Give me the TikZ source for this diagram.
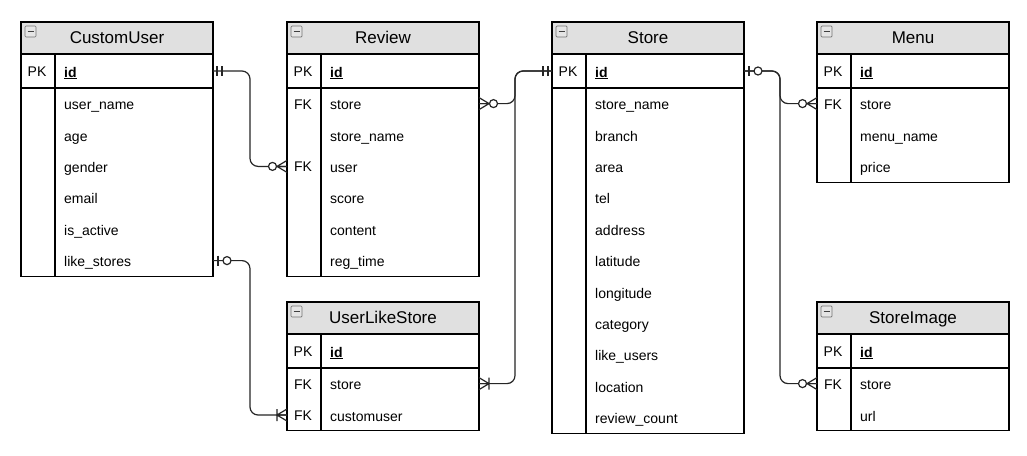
\documentclass[tikz,border=0pt]{standalone}
\usepackage{fontspec}
\setmainfont{Liberation Sans}
\usetikzlibrary{calc}
\tikzset{
 tbl/.style={draw=black, line width=1.1pt},
 hdrfill/.style={fill=black!12},
 ttl/.style={font=\fontsize{17}{19}\selectfont, anchor=base, inner sep=0pt},
 keyt/.style={font=\fontsize{14}{16}\selectfont, anchor=base, inner sep=0pt},
 fld/.style={font=\fontsize{14}{16}\selectfont, anchor=base west, inner sep=0pt},
 conn/.style={draw=black!85, line width=1.2pt, rounded corners=8pt},
 sym/.style={draw=black!85, line width=1.2pt},
 mandone/.pic={\draw[sym] (4,-5)--(4,5) (9,-5)--(9,5);},
 zeroone/.pic={\draw[sym] (5,-5)--(5,5); \draw[sym,fill=white] (14,0) circle (4pt);},
 zeromany/.pic={\draw[sym] (0,-6)--(10,0)--(0,6) (0,0)--(10,0); \draw[sym,fill=white] (14.5,0) circle (4pt);},
 onemany/.pic={\draw[sym] (0,-6)--(10,0)--(0,6) (0,0)--(10,0) (10,-6)--(10,6);},
}
\newcommand\ertable[4]{%
 \begin{scope}[shift={#2}]
  \foreach \k/\f [count=\i from 0] in {#4}{
    \pgfmathsetmacro\yy{\i==0 ? 49 : 81.6+(\i-1)*31.4}
    \coordinate (#1-\i-l) at (0,\yy);
    \coordinate (#1-\i-r) at (192,\yy);
    \node[keyt] (#1-\i-k) at (16,\yy+5.5) {\k};
    \node[fld] (#1-\i-f) at (43,\yy+6) {\f};
    \xdef\nr{\i}
  }
  \pgfmathsetmacro\bot{66+\nr*31.4}
  \path[hdrfill] (0,0) rectangle (192,32);
  \node[ttl] (#1) at (96,21.5) {#3};
  \draw[tbl] (0,0) rectangle (192,\bot) (0,32)--(192,32) (0,66)--(192,66) (34,32)--(34,\bot);
  \draw[draw=black!55, fill=black!10, rounded corners=1pt, line width=0.7pt] (4,4) rectangle (15,15);
  \draw[black!75, line width=1.5pt] (6.5,9.5)--(12.5,9.5);
 \end{scope}}
\begin{document}
\begin{tikzpicture}[x=1pt,y=-1pt]
\useasboundingbox[fill=white] (0,0) rectangle (1027,455);
\ertable{cu}{(21,22)}{CustomUser}{PK/\textbf{\underline{id}}, /user\_name, /age, /gender, /email, /is\_active, /like\_stores}
\ertable{rv}{(287,22)}{Review}{PK/\textbf{\underline{id}}, FK/store, /store\_name, FK/user, /score, /content, /reg\_time}
\ertable{st}{(552,22)}{Store}{PK/\textbf{\underline{id}}, /store\_name, /branch, /area, /tel, /address, /latitude, /longitude, /category, /like\_users, /location, /review\_count}
\ertable{mn}{(817,22)}{Menu}{PK/\textbf{\underline{id}}, FK/store, /menu\_name, /price}
\ertable{ul}{(287,302)}{UserLikeStore}{PK/\textbf{\underline{id}}, FK/store, FK/customuser}
\ertable{si}{(817,302)}{StoreImage}{PK/\textbf{\underline{id}}, FK/store, /url}

\draw[conn] (cu-0-r) -- ++(37,0) |- (rv-3-l);
\draw[conn] (rv-1-r) -- ++(36,0) |- (st-0-l);
\draw[conn] (ul-1-r) -- ++(36,0) |- (st-0-l);
\draw[conn] (st-0-r) -- ++(36,0) |- (mn-1-l);
\draw[conn] (st-0-r) -- ++(36,0) |- (si-1-l);
\draw[conn] (cu-6-r) -- ++(37,0) |- (ul-2-l);

\pic at (cu-0-r) {mandone};
\pic[rotate=180] at (rv-3-l) {zeromany};
\pic at (rv-1-r) {zeromany};
\pic[rotate=180] at (st-0-l) {mandone};
\pic at (ul-1-r) {onemany};
\pic at (st-0-r) {zeroone};
\pic[rotate=180] at (mn-1-l) {zeromany};
\pic[rotate=180] at (si-1-l) {zeromany};
\pic at (cu-6-r) {zeroone};
\pic[rotate=180] at (ul-2-l) {onemany};
\end{tikzpicture}
\end{document}
